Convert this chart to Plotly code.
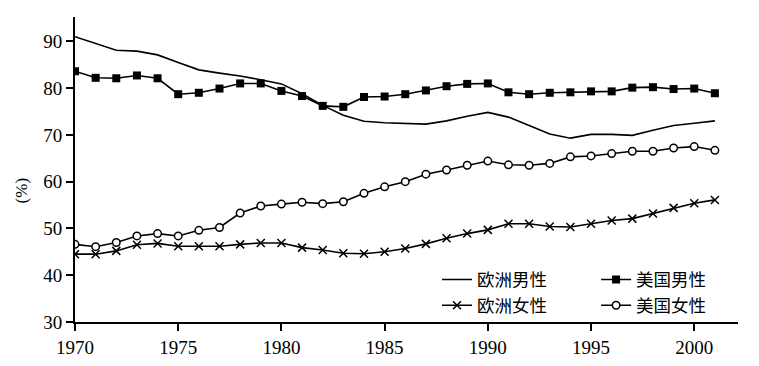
import plotly.graph_objects as go

years = list(range(1970, 2002))

eu_male = [91.0, 89.5, 88.1, 87.9, 87.1, 85.5, 83.9, 83.2, 82.6, 81.8,
           80.9, 78.8, 76.3, 74.2, 72.9, 72.6, 72.4, 72.3, 73.0, 74.0,
           74.8, 73.8, 72.0, 70.2, 69.3, 70.1, 70.1, 69.9, 71.0, 72.0,
           72.5, 73.0]
us_male = [83.6, 82.2, 82.1, 82.7, 82.1, 78.7, 79.0, 79.9, 81.0, 81.0,
           79.4, 78.3, 76.2, 76.0, 78.1, 78.2, 78.7, 79.5, 80.4, 80.9,
           81.0, 79.1, 78.7, 79.0, 79.1, 79.3, 79.3, 80.1, 80.2, 79.8,
           79.9, 78.9]
eu_female = [44.5, 44.5, 45.2, 46.5, 46.8, 46.2, 46.2, 46.2, 46.6, 46.9,
             46.9, 45.9, 45.4, 44.7, 44.6, 45.0, 45.7, 46.7, 47.9, 48.9,
             49.7, 51.0, 51.0, 50.4, 50.3, 51.0, 51.7, 52.1, 53.2, 54.4,
             55.4, 56.1]
us_female = [46.6, 46.1, 47.0, 48.4, 48.9, 48.4, 49.6, 50.2, 53.3, 54.8,
             55.2, 55.6, 55.3, 55.7, 57.5, 58.9, 60.0, 61.6, 62.5, 63.5,
             64.4, 63.6, 63.5, 63.9, 65.3, 65.5, 66.0, 66.5, 66.5, 67.2,
             67.5, 66.7]

names = ["欧洲男性", "美国男性", "欧洲女性", "美国女性"]
y_ticks = [30, 40, 50, 60, 70, 80, 90]
x_ticks = [1970, 1975, 1980, 1985, 1990, 1995, 2000]

line = dict(color="black", width=1.6)
fig = go.Figure()
fig.add_trace(go.Scatter(x=years, y=eu_male, mode="lines", name=names[0],
                         line=line, legend="legend"))
fig.add_trace(go.Scatter(x=years, y=eu_female, mode="lines+markers", name=names[2],
                         line=line, legend="legend",
                         marker=dict(symbol="x-thin-open", size=8, color="black",
                                     line=dict(color="black", width=1.5))))
fig.add_trace(go.Scatter(x=years, y=us_male, mode="lines+markers", name=names[1],
                         line=line, legend="legend2",
                         marker=dict(symbol="square", size=8, color="black")))
fig.add_trace(go.Scatter(x=years, y=us_female, mode="lines+markers", name=names[3],
                         line=line, legend="legend2",
                         marker=dict(symbol="circle", size=7.5, color="white",
                                     line=dict(color="black", width=1.5))))

tick_font = dict(family="Liberation Serif", size=19, color="black")
leg_font = dict(family="Noto Sans CJK SC", size=17.5, color="black")

fig.update_layout(
    width=759, height=366,
    margin=dict(l=67, r=29, t=9, b=52),
    paper_bgcolor="white", plot_bgcolor="white",
    showlegend=True,
    legend=dict(x=0.546, y=0.198, xanchor="left", yanchor="top",
                bgcolor="rgba(0,0,0,0)", font=leg_font, tracegroupgap=0),
    legend2=dict(x=0.786, y=0.198, xanchor="left", yanchor="top",
                 bgcolor="rgba(0,0,0,0)", font=leg_font, tracegroupgap=0),
    xaxis=dict(range=[1970, 2002.12], tickvals=x_ticks, ticks="outside",
               ticklen=7, tickwidth=2, tickcolor="black", showline=True,
               linecolor="black", linewidth=2, showgrid=False, zeroline=False,
               tickfont=tick_font),
    yaxis=dict(range=[30, 95.2], tickvals=y_ticks, ticks="outside",
               ticklen=7, tickwidth=2, tickcolor="black", showline=True,
               linecolor="black", linewidth=2, showgrid=False, zeroline=False,
               tickfont=tick_font),
    annotations=[dict(text="(%)", xref="paper", yref="paper",
                      x=-0.098, y=0.43, textangle=-90, showarrow=False,
                      font=dict(family="Liberation Serif", size=17, color="black"))],
)

fig.write_html("out.html")
